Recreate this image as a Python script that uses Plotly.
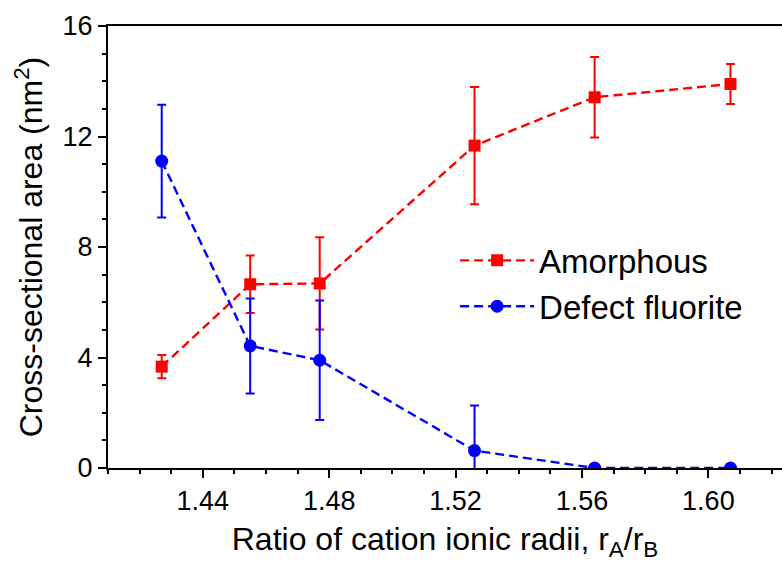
import plotly.graph_objects as go

# Ratio of cation ionic radii r_A / r_B
ratio = [1.427, 1.455, 1.477, 1.526, 1.564, 1.607]

# Cross-sectional area (nm^2) and its uncertainty
amorphous = [3.67, 6.65, 6.68, 11.67, 13.42, 13.90]
amorphous_err = [0.42, 1.04, 1.67, 2.12, 1.46, 0.72]

fluorite = [11.11, 4.42, 3.90, 0.63, 0.0, 0.0]
fluorite_err = [2.04, 1.72, 2.16, 1.63, 0.0, 0.0]

x_ticks = [1.44, 1.48, 1.52, 1.56, 1.60]
x_ticklabels = ["1.44", "1.48", "1.52", "1.56", "1.60"]
y_ticks = [0, 4, 8, 12, 16]

RED = "#FF0000"
BLUE = "#0000FF"
FONT = "Liberation Sans, Arial, sans-serif"

fig = go.Figure()

fig.add_trace(go.Scatter(
    x=ratio, y=amorphous, name="Amorphous", mode="lines+markers",
    line=dict(color=RED, width=2.4, dash="9px,5px"),
    marker=dict(symbol="square", size=12, color=RED),
    error_y=dict(type="data", array=amorphous_err, visible=True,
                 color=RED, thickness=2, width=4.5),
))

fig.add_trace(go.Scatter(
    x=ratio, y=fluorite, name="Defect fluorite", mode="lines+markers",
    line=dict(color=BLUE, width=2.4, dash="9px,5px"),
    marker=dict(symbol="circle", size=13, color=BLUE),
    error_y=dict(type="data", array=fluorite_err, visible=True,
                 color=BLUE, thickness=2, width=4.5),
))

axis_common = dict(
    showline=True, linecolor="black", linewidth=2,
    ticks="outside", ticklen=8, tickwidth=2, tickcolor="black",
    showgrid=False, zeroline=False,
    tickfont=dict(family=FONT, size=27, color="black"),
)

fig.update_xaxes(
    range=[1.41, 1.6233], tickvals=x_ticks, ticktext=x_ticklabels,
    mirror=True,
    minor=dict(dtick=0.01, tick0=1.41, ticks="outside", ticklen=4,
               tickwidth=2, tickcolor="black"),
    title=dict(text="Ratio of cation ionic radii, r<sub>A</sub>/r<sub>B</sub>",
               font=dict(family=FONT, size=32, color="black"), standoff=12),
    **axis_common,
)

fig.update_yaxes(
    range=[0, 16], tickvals=y_ticks,
    minor=dict(dtick=1, tick0=0, ticks="outside", ticklen=4,
               tickwidth=2, tickcolor="black"),
    title=dict(text="Cross-sectional area (nm<sup>2</sup>)",
               font=dict(family=FONT, size=32, color="black"), standoff=10),
    **axis_common,
)

fig.update_layout(
    width=782, height=563,
    margin=dict(l=108, r=0, t=26, b=95),
    plot_bgcolor="white", paper_bgcolor="white",
    font=dict(family=FONT, color="black"),
    legend=dict(x=0.515, y=0.533, xanchor="left", yanchor="top",
                bgcolor="rgba(0,0,0,0)", itemwidth=74,
                font=dict(family=FONT, size=33, color="black"),
                tracegroupgap=0),
    showlegend=True,
)

fig.write_html("out.html")
